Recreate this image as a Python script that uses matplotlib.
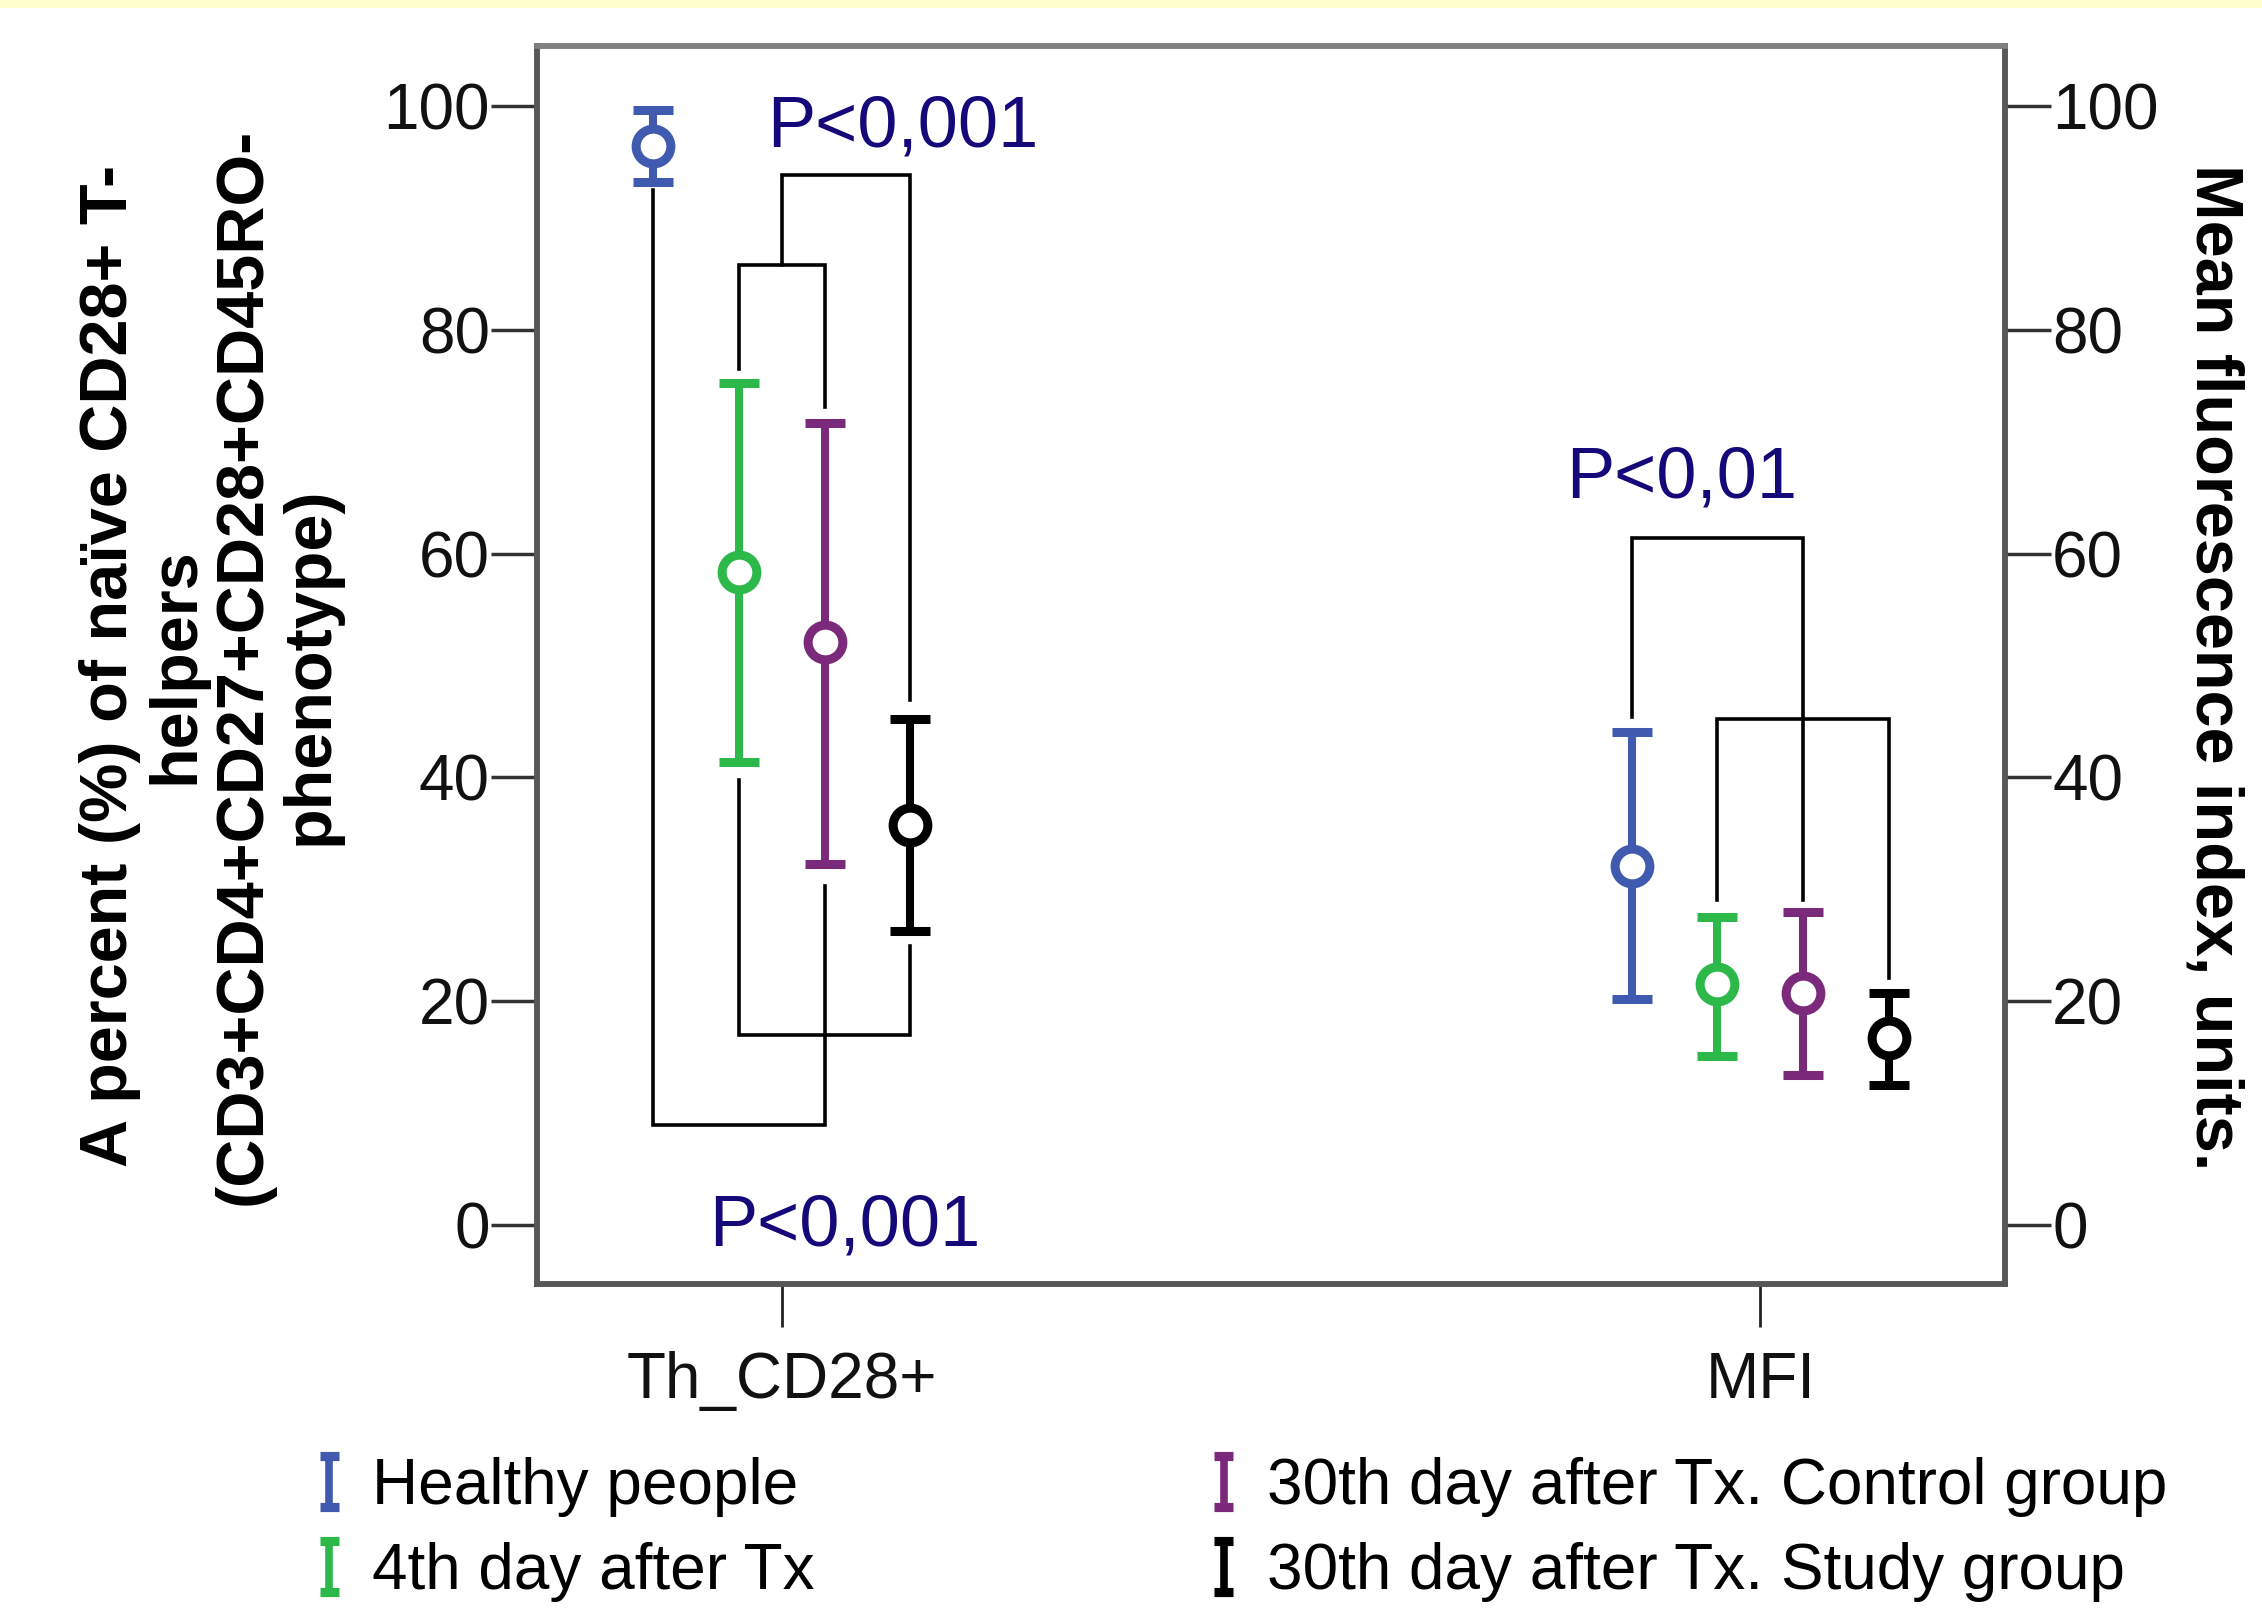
import matplotlib
matplotlib.use('Agg')
import numpy as np
import matplotlib.pyplot as plt
from matplotlib.lines import Line2D
from matplotlib.legend_handler import HandlerBase
from matplotlib.patches import Rectangle

plt.rcParams['font.family'] = ['Liberation Sans', 'DejaVu Sans']

# ---------------- data ----------------
categories = ['Th_CD28+', 'MFI']
groups = ['Healthy people', '4th day after Tx',
          '30th day after Tx. Control group', '30th day after Tx. Study group']
colors = ['#3f5aae', '#2db84a', '#7b2a7b', '#000000']

th_mean = [96.5, 58.4, 52.1, 35.7]
th_low = [93.2, 41.4, 32.3, 26.3]
th_high = [99.7, 75.3, 71.7, 45.2]

mfi_mean = [32.1, 21.5, 20.7, 16.7]
mfi_low = [20.2, 15.1, 13.4, 12.5]
mfi_high = [44.1, 27.5, 28.0, 20.7]

yticks = [0, 20, 40, 60, 80, 100]

# brackets: (left series, right series, left leg start, right leg start, level)
brackets_th = [
    (1, 2, 76.5, 73.1, 85.8),
    (1.5, 3, 85.8, 46.9, 93.9),
    (1, 3, 39.8, 24.9, 17.0),
    (0, 2, 92.5, 30.3, 8.9),
]
brackets_mfi = [
    (0, 2, 45.4, 29.0, 61.4),
    (1, 3, 29.0, 22.1, 45.2),
]
p_texts = ['P<0,001', 'P<0,001', 'P<0,01']
p_x = [1.124, 1.064, 1.92]
p_y = [96.4, -1.9, 65.0]

# ---------------- layout ----------------
W, H = 2262, 1617
fig = plt.figure(figsize=(W / 100, H / 100), dpi=100)
fig.patches.append(Rectangle((0, 1 - 7 / H), 1, 7 / H, transform=fig.transFigure,
                             color='#ffffcc', zorder=0))
ax = fig.add_axes([537 / W, 1 - 1284 / H, 1468 / W, 1238 / H])
ax2 = ax.twinx()

offsets = [-0.131, -0.044, 0.044, 0.131]
positions = [1, 2]
ylim = (-5.3, 105.4)
xlim = (0.75, 2.25)

series = [(th_mean, th_low, th_high), (mfi_mean, mfi_low, mfi_high)]
for ci, (m, lo, hi) in enumerate(series):
    for gi in range(4):
        x = positions[ci] + offsets[gi]
        ax.errorbar([x], [m[gi]], yerr=[[m[gi] - lo[gi]], [hi[gi] - m[gi]]],
                    fmt='o', color=colors[gi], mfc='white', mec=colors[gi],
                    ms=25, mew=6.5, elinewidth=5.8, capsize=14.5, capthick=6.2,
                    zorder=3)


def sx(ci, s):
    return positions[ci] + np.interp(s, [0, 1, 2, 3], offsets)


for ci, br in enumerate([brackets_th, brackets_mfi]):
    for (sl, sr, yl, yr, lev) in br:
        xl, xr = sx(ci, sl), sx(ci, sr)
        ax.plot([xl, xl, xr, xr], [yl, lev, lev, yr], color='black', lw=2.6,
                solid_joinstyle='miter', zorder=2)

for t, x, y in zip(p_texts, p_x, p_y):
    ax.text(x, y, t, ha='center', va='baseline', fontsize=52, color='#15097a',
            zorder=4)

for a in (ax, ax2):
    a.set_xlim(*xlim)
    a.set_ylim(*ylim)
    for s in a.spines.values():
        s.set_linewidth(4)
        s.set_color('#575757')
    a.spines['top'].set_color('#808080')

ax.set_xticks(positions)
ax.set_xticklabels(categories)
ax.set_yticks(yticks)
ax.tick_params(axis='x', length=31, width=2, color='#222222', pad=17,
               labelsize=46, labelcolor='#111111')
ax.tick_params(axis='y', length=33, width=2.5, color='#333333', pad=1,
               labelsize=46, labelcolor='#111111')
ax2.set_yticks(yticks)
ax2.tick_params(axis='y', length=33, width=2.5, color='#333333', pad=1,
                labelsize=46, labelcolor='#111111')

fig.text(210 / W, 1 - 666 / H,
         'A percent (%) of naïve CD28+ T-\nhelpers\n(CD3+CD4+CD27+CD28+CD45RO-\nphenotype)',
         rotation=90, ha='center', va='center', fontsize=48, fontweight='bold',
         linespacing=1.1)
fig.text(2213 / W, 1 - 667 / H, 'Mean fluorescence index, units.',
         rotation=270, ha='center', va='center', fontsize=48, fontweight='bold')


class IHandler(HandlerBase):
    def create_artists(self, legend, orig_handle, xdescent, ydescent,
                       width, height, fontsize, trans):
        c = orig_handle.get_color()
        cx = width / 2 - xdescent
        cy = height / 2 - ydescent
        h = 0.40 * fontsize
        w = 0.15 * fontsize
        lw = 5.5
        v = Line2D([cx, cx], [cy - h, cy + h], color=c, lw=lw, transform=trans,
                   solid_capstyle='butt')
        c1 = Line2D([cx - w, cx + w], [cy + h, cy + h], color=c, lw=lw * 1.2,
                    transform=trans, solid_capstyle='butt')
        c2 = Line2D([cx - w, cx + w], [cy - h, cy - h], color=c, lw=lw * 1.2,
                    transform=trans, solid_capstyle='butt')
        return [v, c1, c2]


handles = [Line2D([], [], color=c) for c in colors]
fig.legend(handles, groups, handler_map={Line2D: IHandler()}, ncol=2,
           loc='upper left', bbox_to_anchor=(310 / W, 1 - 1457 / H),
           frameon=False, fontsize=46, handlelength=0.6, handletextpad=0.375,
           columnspacing=6.1, labelspacing=0.385, borderpad=0, borderaxespad=0)

fig.savefig('out.png', dpi=100)
